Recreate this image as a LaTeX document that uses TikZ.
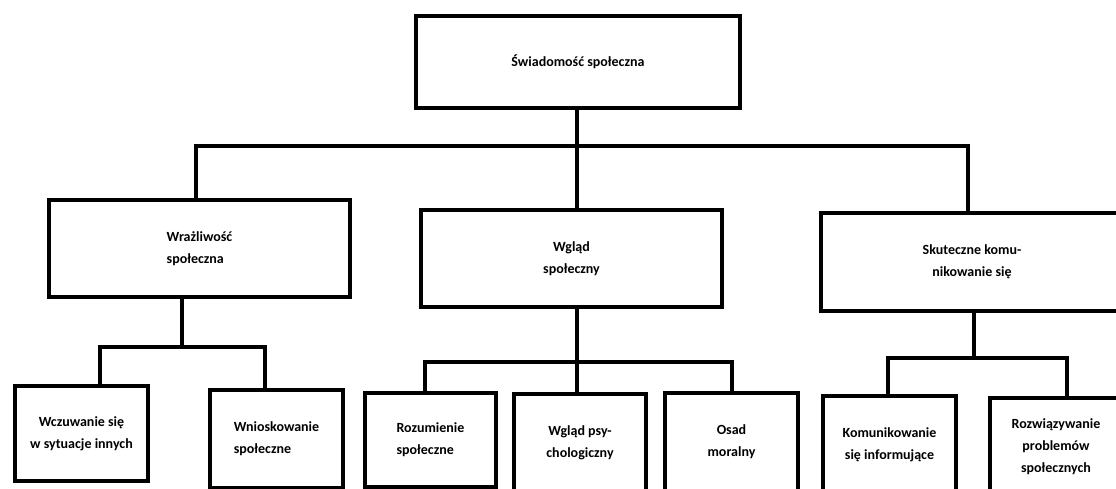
\documentclass[tikz,border=0pt]{standalone}
\usepackage{fontspec}
\setmainfont{Carlito}
\begin{document}
\begin{tikzpicture}[x=1pt,y=-1pt,
  box/.style={draw=black,line width=4pt,inner sep=0pt,font=\bfseries\fontsize{14}{22}\selectfont,align=center},
  conn/.style={draw=black,line width=4pt}]
\useasboundingbox (0,0) rectangle (1116,488);
\clip (0,0) rectangle (1116,488);
% level 0
\node[box,minimum width=324pt,minimum height=92pt] (top) at (578,62) {Świadomość społeczna};
% level 1
\node[box,minimum width=301pt,minimum height=97pt,align=left] (wraz) at (199.5,248.5) {Wrażliwość\\społeczna};
\node[box,minimum width=301pt,minimum height=97pt] (wglad) at (571.5,258.5) {Wgląd\\społeczny};
\node[box,minimum width=302pt,minimum height=98pt] (skut) at (972,262) {Skuteczne komu-\\nikowanie się};
% level 2
\node[box,minimum width=133pt,minimum height=95pt] (wcz) at (81.5,433.5) {Wczuwanie się\\w sytuacje innych};
\node[box,minimum width=133pt,minimum height=98pt,align=left] (wnio) at (276.5,439) {Wnioskowanie\\społeczne};
\node[box,minimum width=131pt,minimum height=94pt,align=left] (rozu) at (430.5,440) {Rozumienie\\społeczne};
\node[box,minimum width=132pt,minimum height=98pt] (psy) at (580,443) {Wgląd psy-\\chologiczny};
\node[box,minimum width=133pt,minimum height=98pt] (osad) at (731.5,442) {Osad\\moralny};
\node[box,minimum width=133pt,minimum height=98pt] (kom) at (889.5,445) {Komunikowanie\\się informujące};
\node[box,minimum width=132pt,minimum height=98pt] (rozw) at (1056,447) {Rozwiązywanie\\problemów\\społecznych};
% bus coordinates
\coordinate (busL) at (196,146);
\coordinate (busM) at (577,146);
\coordinate (busR) at (968,146);
\coordinate (aL) at (100,347);
\coordinate (aT) at (182,347);
\coordinate (aR) at (265,347);
\coordinate (bL) at (425,362);
\coordinate (bR) at (732,362);
\coordinate (cL) at (888,358);
\coordinate (cT) at (974,358);
\coordinate (cR) at (1067,358);
% level 0 -> level 1
\draw[conn] (top.south -| busM) -- (busM);
\draw[conn] (wraz.north -| busL) -- (busL) -- (busR) -- (skut.north -| busR);
\draw[conn] (busM) -- (wglad.north -| busM);
% level 1 -> level 2
\draw[conn] (wraz.south -| aT) -- (aT);
\draw[conn] (wcz.north -| aL) -- (aL) -- (aR) -- (wnio.north -| aR);
\draw[conn] (wglad.south -| busM) -- (psy.north -| busM);
\draw[conn] (rozu.north -| bL) -- (bL) -- (bR) -- (osad.north -| bR);
\draw[conn] (skut.south -| cT) -- (cT);
\draw[conn] (kom.north -| cL) -- (cL) -- (cR) -- (rozw.north -| cR);
\end{tikzpicture}
\end{document}
